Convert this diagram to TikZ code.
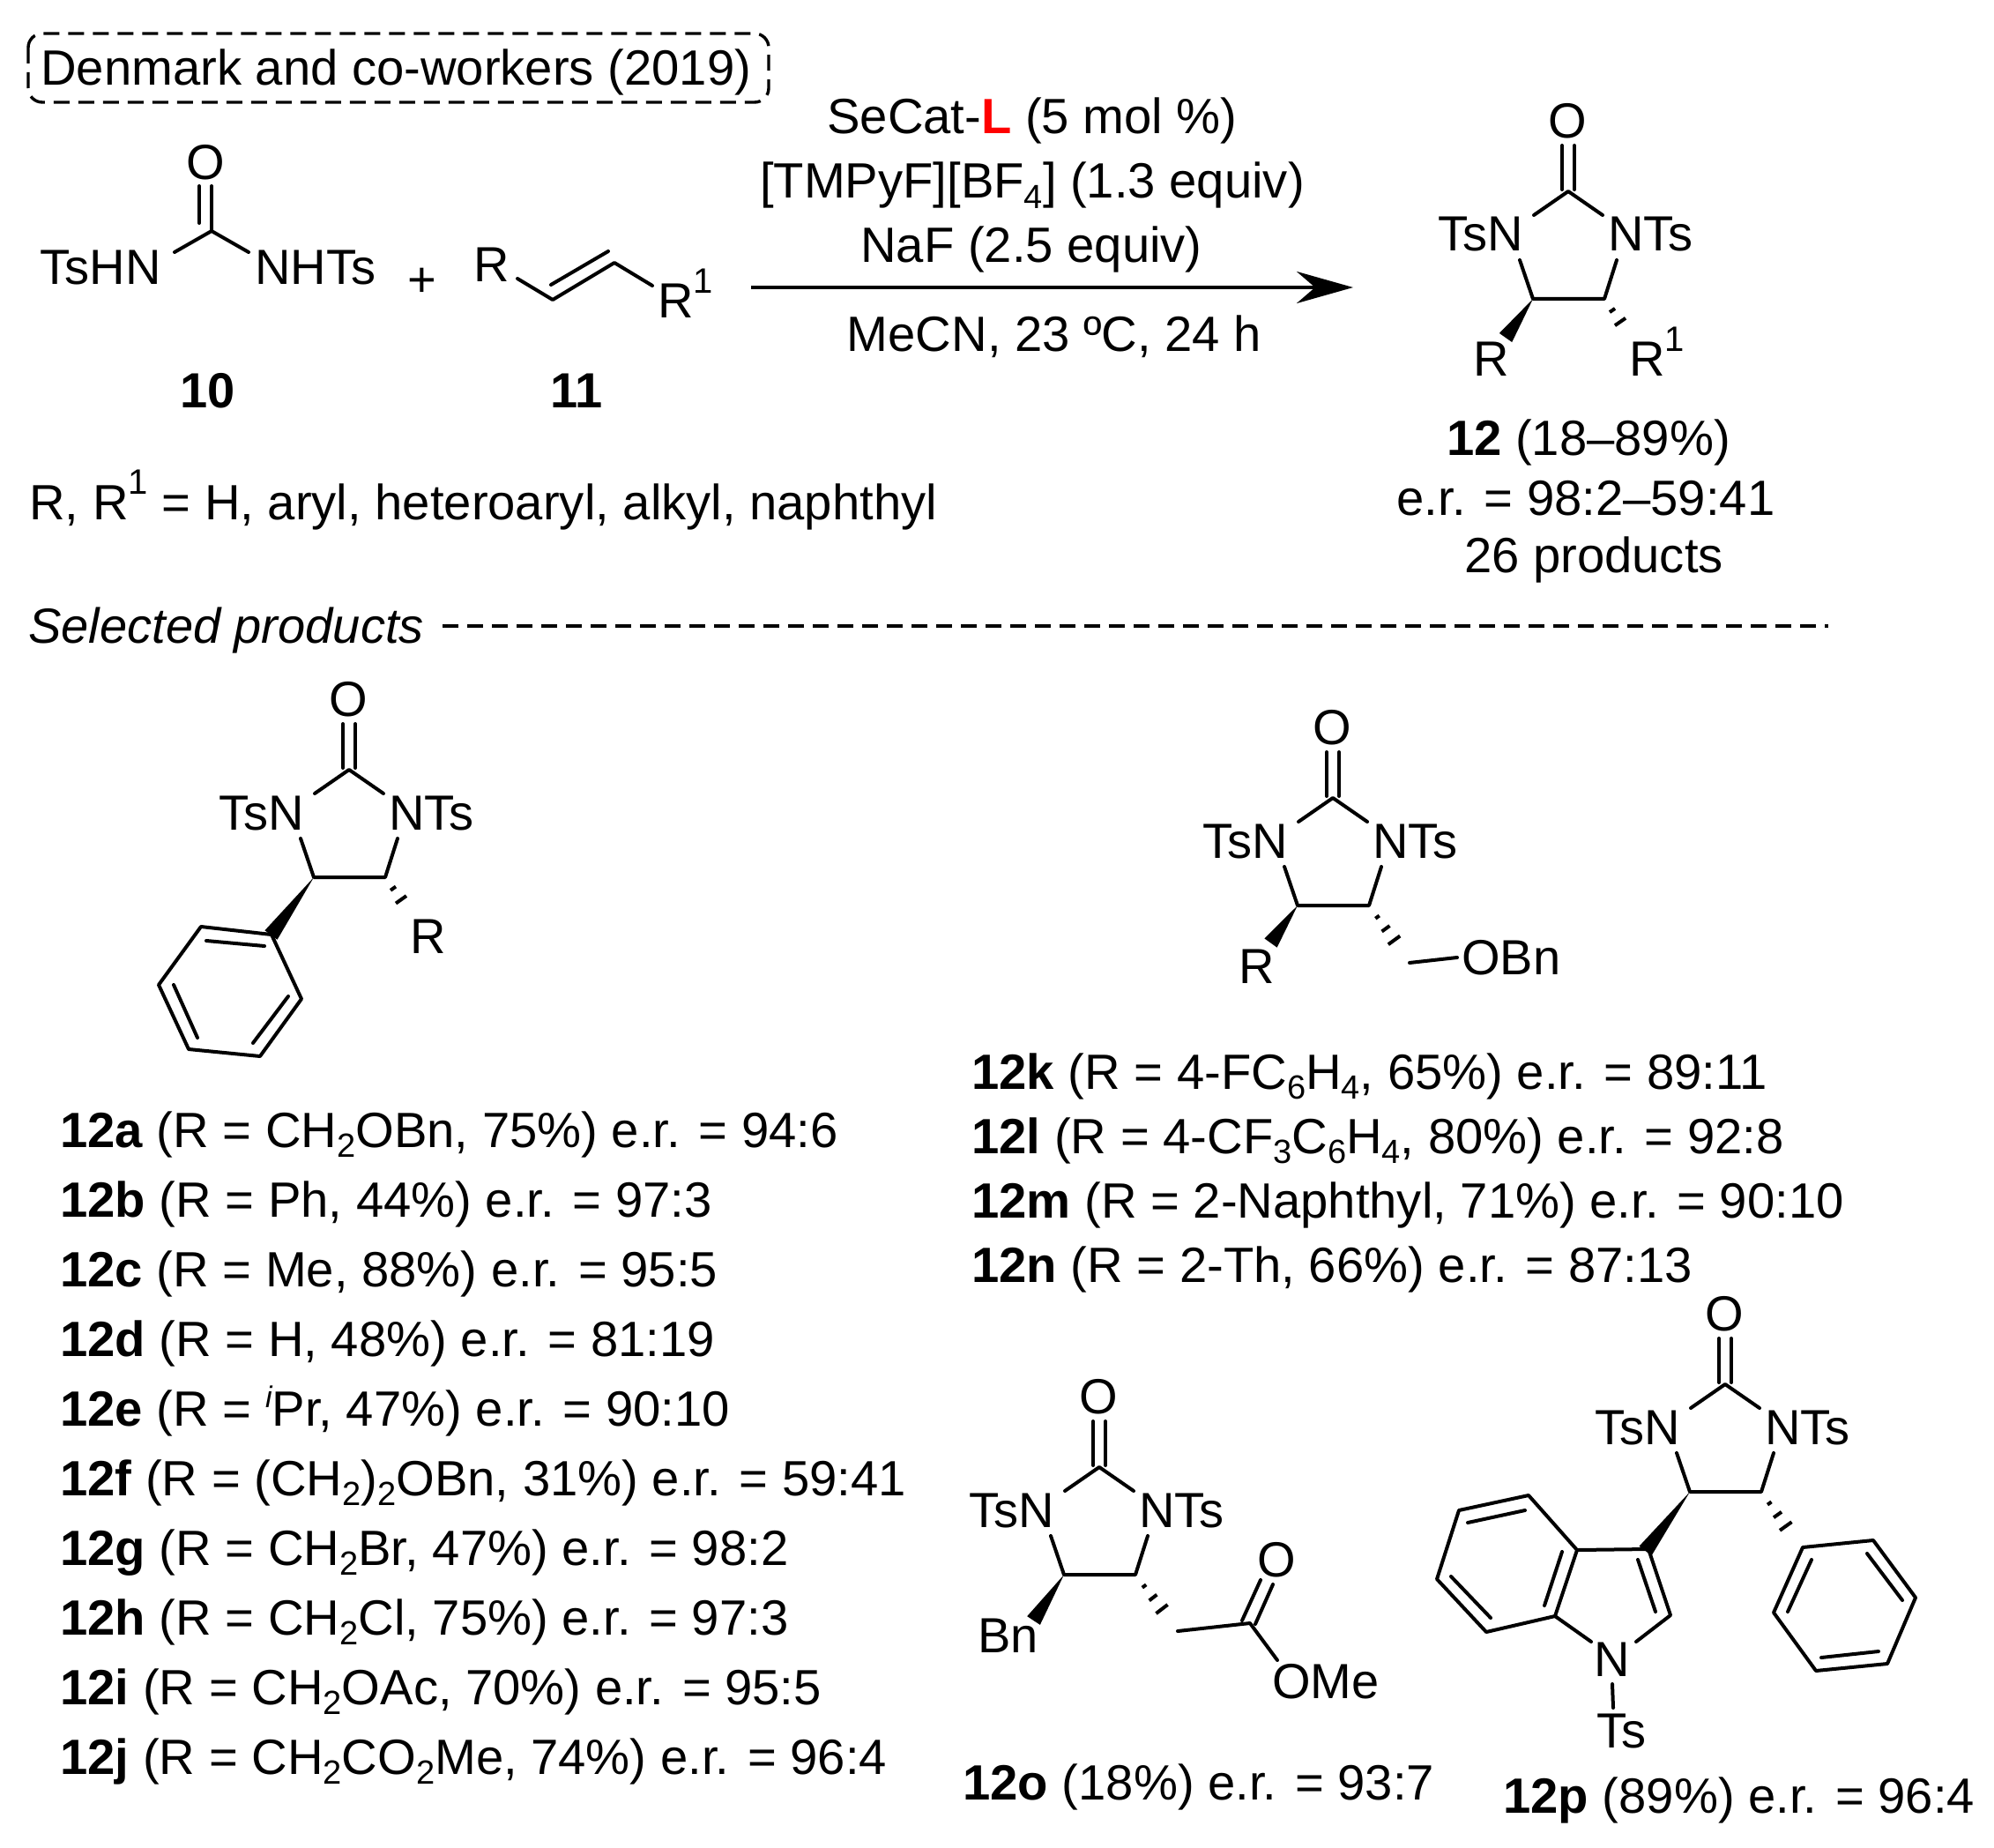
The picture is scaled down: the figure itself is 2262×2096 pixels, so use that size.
\documentclass[tikz,border=0pt]{standalone}
\usepackage{fontspec}
\setmainfont{Liberation Sans}
\usetikzlibrary{arrows.meta}
\usetikzlibrary{calc}
\newcommand{\chemsub}[1]{\raisebox{-.2em}{\fontsize{19}{19}\selectfont #1}}
\newcommand{\chemsup}[1]{\raisebox{.5em}{\fontsize{20}{20}\selectfont #1}}
\newcommand{\wedgebond}[2]{\fill ($(#2)!4.4pt!90:(#1)$) -- (#1) -- ($(#2)!4.4pt!-90:(#1)$) -- cycle;}
\newcommand{\hashbond}[3]{\foreach \k in {1,...,#1} {
\pgfmathsetmacro{\hf}{\k/#1}
\pgfmathsetmacro{\hw}{5.5*\k/#1}
\coordinate (hb) at ($(#2)!\hf!(#3)$);
\draw[hash] ($(hb)!\hw pt!90:(#3)$) -- ($(hb)!\hw pt!-90:(#3)$);
}}
\newcommand{\ureaRing}[3]{
\begin{scope}[shift={(#2,#3)}]
\coordinate (#1C) at (0,0);
\coordinate (#1CL) at (-40,122);
\coordinate (#1CR) at (41,122);
\coordinate (#1a) at (-39,27);
\coordinate (#1b) at (39,27);
\coordinate (#1c) at (-55,78);
\coordinate (#1d) at (55,78);
\node[atom,anchor=center] (#1O) at (-1,-80) {O};
\node[atom,anchor=base east] (#1NL) at (-51,68) {TsN};
\node[atom,anchor=base west] (#1NR) at (45,68) {NTs};
\draw[bond] (-7,-52) -- (-7,-2);
\draw[bond] (7,-52) -- (7,-2);
\draw[bond] (#1a) -- (#1C) -- (#1b);
\draw[bond] (#1c) -- (#1CL) -- (#1CR) -- (#1d);
\end{scope}}
\tikzset{
bond/.style={line width=2pt,line join=round},
hash/.style={line width=2pt,line cap=butt},
atom/.style={font=\fontsize{28}{32}\selectfont,inner sep=0pt},
txt/.style={font=\fontsize{28.1}{32}\selectfont,inner sep=0pt,anchor=base west},
ctr/.style={font=\fontsize{28.1}{32}\selectfont,inner sep=0pt,anchor=base},
dashline/.style={line width=1.7pt,line cap=butt,dash pattern=on 9pt off 5pt}
}
\begin{document}
\begin{tikzpicture}[line cap=round,x=0.5pt,y=-0.5pt]
\useasboundingbox (0,0) rectangle (2262,2096);
\node[txt] (hdr) at (46,97) {Denmark and co-workers (2019)};
\draw[dashline,rounded corners=8pt] (32,38) rectangle (872,116);
% urea + alkene
\node[atom,anchor=base east] (tshn) at (183,323) {TsHN};
\node[atom,anchor=base west] (nhts) at (289,323) {NHTs};
\node[atom] (uo) at (233,184) {O};
\coordinate (uc) at (240,262);
\draw[bond] (198,286) -- (uc) -- (282,286);
\draw[bond] (240,211) -- (uc);
\draw[bond] (226,211) -- (226,253);
\node[atom] (plus) at (479,320) {+};
\node[atom,anchor=base west] (alkr) at (537,320) {R};
\node[atom,anchor=base west] (alkro) at (746,361) {R\chemsup{1}};
\coordinate (alka) at (627,340);
\coordinate (alkb) at (697,298);
\draw[bond] (587,316) -- (alka) -- (alkb) -- (740,324);
\draw[bond] (625,323) -- (690,285);
\node[ctr,font=\bfseries\fontsize{28}{32}\selectfont] (ten) at (236,463) {10};
\node[ctr,font=\bfseries\fontsize{28}{32}\selectfont] (eleven) at (654,463) {11};
\node[txt] (rdef) at (33,589) {R, R\chemsup{1} = H, aryl, heteroaryl, alkyl, naphthyl};
% conditions
\node[ctr] (condone) at (1171,152) {SeCat-{\bfseries\color{red}L} (5 mol \%)};
\node[ctr] (condtwo) at (1171,225) {[TMPyF][BF\chemsub{4}] (1.3 equiv)};
\node[ctr] (condthree) at (1170,298) {NaF (2.5 equiv)};
\node[ctr] (condfour) at (1196,399) {MeCN, 23 ºC, 24 h};
\coordinate (arrowa) at (852,326);
\coordinate (arrowb) at (1535,326);
\draw[line width=2pt,line cap=butt,-{Stealth[length=32pt,width=18pt]}] (arrowa) -- (arrowb);
% product 12
\ureaRing{pr}{1779}{217}
\wedgebond{prCL}{1708,383}
\hashbond{3}{prCR}{1847,378}
\node[atom,anchor=base west] (prr) at (1671,427) {R};
\node[atom,anchor=base west] (prro) at (1848,427) {R\chemsup{1}};
\node[ctr] (yield) at (1802,517) {{\bfseries 12} (18–89\%)};
\node[ctr] (er) at (1799,585) {e.r. = 98:2–59:41};
\node[ctr] (count) at (1808,649) {26 products};
% selected products
\node[txt,font=\itshape\fontsize{28}{32}\selectfont] (sel) at (32,729) {Selected products};
\coordinate (sela) at (502,710);
\coordinate (selb) at (2074,710);
\draw[dashline] (sela) -- (selb);
\ureaRing{a}{396}{873}
\wedgebond{aCL}{307.5,1060.5}
\hashbond{3}{aCR}{464,1033}
\node[atom,anchor=base west] (ar) at (465,1081) {R};
\foreach \n/\p in {1/{228,1051},2/{308,1060},3/{342,1133},4/{295,1198},5/{214,1190},6/{180,1117}}
\coordinate (ph\n) at (\p);
\draw[bond] (ph1) -- (ph2) -- (ph3) -- (ph4) -- (ph5) -- (ph6) -- cycle;
\draw[bond] (234,1067) -- (300,1073);
\draw[bond] (327,1130) -- (287,1183);
\draw[bond] (197,1117) -- (224,1177);
\foreach \lab/\txt [count=\i from 0] in {12a/{(R = CH\chemsub{2}OBn, 75\%) e.r. = 94:6},
12b/{(R = Ph, 44\%) e.r. = 97:3},
12c/{(R = Me, 88\%) e.r. = 95:5},
12d/{(R = H, 48\%) e.r. = 81:19},
12e/{(R = {\fontsize{17}{17}\selectfont\raisebox{.6em}{\itshape i}}Pr, 47\%) e.r. = 90:10},
12f/{(R = (CH\chemsub{2})\chemsub{2}OBn, 31\%) e.r. = 59:41},
12g/{(R = CH\chemsub{2}Br, 47\%) e.r. = 98:2},
12h/{(R = CH\chemsub{2}Cl, 75\%) e.r. = 97:3},
12i/{(R = CH\chemsub{2}OAc, 70\%) e.r. = 95:5},
12j/{(R = CH\chemsub{2}CO\chemsub{2}Me, 74\%) e.r. = 96:4}}
\node[txt] (lst\lab) at (68,{1301+79*\i}) {{\bfseries\lab} \txt};
\ureaRing{k}{1512}{905}
\wedgebond{kCL}{1441.5,1069.5}
\hashbond{4}{kCR}{1591,1079.5}
\node[atom,anchor=base west] (kr) at (1405,1115) {R};
\node[atom,anchor=base west] (kobn) at (1658,1105) {OBn};
\draw[bond] (1599,1092) -- (1653,1086);
\foreach \lab/\txt [count=\i from 0] in {12k/{(R = 4-FC\chemsub{6}H\chemsub{4}, 65\%) e.r. = 89:11},
12l/{(R = 4-CF\chemsub{3}C\chemsub{6}H\chemsub{4}, 80\%) e.r. = 92:8},
12m/{(R = 2-Naphthyl, 71\%) e.r. = 90:10},
12n/{(R = 2-Th, 66\%) e.r. = 87:13}}
\node[txt] (lst\lab) at (1102,{1235+73*\i}) {{\bfseries\lab} \txt};
% 12o
\ureaRing{o}{1247}{1664}
\wedgebond{oCL}{1172.5,1838}
\hashbond{4}{oCR}{1328,1838}
\node[atom,anchor=base west] (obn) at (1109,1874) {Bn};
\coordinate (oe) at (1418,1841);
\node[atom] (oeo) at (1448,1769) {O};
\node[atom,anchor=base west] (ome) at (1443,1926) {OMe};
\draw[bond] (1336,1850) -- (oe) -- (1449,1883);
\draw[bond] (1409,1838) -- (1430,1792);
\draw[bond] (1424,1842) -- (1444,1797);
\node[txt] (lst12o) at (1092,2041) {{\bfseries 12o} (18\%) e.r. = 93:7};
% 12p
\ureaRing{p}{1957}{1570}
\wedgebond{pCL}{1866.5,1759}
\hashbond{4}{pCR}{2035,1744}
\foreach \n/\p in {1/{1870,1757},2/{1895,1832},3/{1789,1758},4/{1734,1696},5/{1655,1713},6/{1630,1791},7/{1686,1851},8/{1764,1833}}
\coordinate (in\n) at (\p);
\node[atom,anchor=base] (inn) at (1829,1901) {N};
\node[atom,anchor=base west] (ints) at (1811,1982) {Ts};
\draw[bond] (1856,1862) -- (in2) -- (in1) -- (in3) -- (in4) -- (in5) -- (in6) -- (in7) -- (in8) -- (1805,1862);
\draw[bond] (in3) -- (in8);
\draw[bond] (1858,1769) -- (1878,1828);
\draw[bond] (1665,1727) -- (1730,1713);
\draw[bond] (1646,1788) -- (1691,1835);
\draw[bond] (1772,1760) -- (1752,1821);
\draw[bond] (1829,1910) -- (1830,1937);
\foreach \n/\p in {1/{2045,1755},2/{2125,1747},3/{2173,1812},4/{2141,1887},5/{2060,1895},6/{2012,1829}}
\coordinate (pph\n) at (\p);
\draw[bond] (pph1) -- (pph2) -- (pph3) -- (pph4) -- (pph5) -- (pph6) -- cycle;
\draw[bond] (2055,1769) -- (2028,1828);
\draw[bond] (2118,1762) -- (2158,1815);
\draw[bond] (2131,1873) -- (2066,1880);
\node[txt] (lst12p) at (1705,2056) {{\bfseries 12p} (89\%) e.r. = 96:4};
\end{tikzpicture}
\end{document}
